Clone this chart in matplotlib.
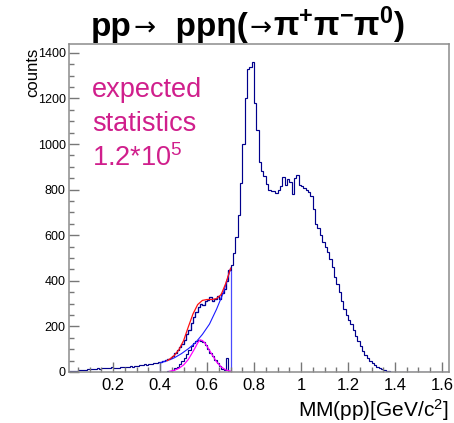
import numpy as np
import matplotlib
matplotlib.use("Agg")
import matplotlib.pyplot as plt
from matplotlib.ticker import MultipleLocator
from matplotlib.offsetbox import TextArea, HPacker, AnchoredOffsetbox

plt.rcParams['font.family'] = ['Liberation Sans', 'DejaVu Sans']
plt.rcParams['mathtext.fontset'] = 'custom'
plt.rcParams['mathtext.rm'] = 'Liberation Sans'
plt.rcParams['mathtext.it'] = 'Liberation Sans:italic'
plt.rcParams['mathtext.bf'] = 'Liberation Sans:bold'

# binning of MM(pp): 0.01 GeV/c^2 bins starting at 0.01
bin_lo = 0.01
bin_w = 0.01

# all events, one value per bin (0.01 ... 1.63)
counts_all = [
    4, 5, 6, 5, 8, 7, 10, 9, 12,
    11, 14, 13, 16, 15, 17, 16, 19, 18, 20,
    17, 19, 18, 21, 20, 23, 22, 25, 24, 27,
    28, 30, 29, 33, 32, 35, 37, 39, 38, 42,
    44, 48, 52, 58, 62, 70, 82, 95, 108, 122,
    140, 165, 185, 215, 240, 262, 285, 300, 296, 310,
    316, 328, 310, 322, 335, 318, 345, 362, 398, 448,
    470, 520, 590, 690, 830, 1000, 1200, 1330, 1340, 1362,
    1180, 1060, 920, 880, 860, 825, 800, 792, 795, 785,
    800, 815, 855, 820, 845, 835, 780, 850, 865, 820,
    815, 805, 800, 790, 770, 715, 650, 630, 600, 570,
    548, 525, 495, 462, 418, 385, 350, 312, 275, 250,
    228, 210, 185, 160, 135, 112, 92, 75, 62, 48,
    38, 30, 22, 16, 12, 8, 5, 3, 2, 1,
    0, 0, 0, 0, 0, 0, 0, 0, 0, 0,
    0, 0, 0, 0, 0, 0, 0, 0, 0, 0,
    0, 0, 0,
]

# fit window 0.40 - 0.70
win_lo, win_hi = 0.40, 0.70

# eta signal after background subtraction (0.40 ... 0.70)
counts_signal = [
    0, 1, 2, 4, 6, 10, 16, 24, 35, 48,
    62, 78, 95, 112, 128, 138, 142, 135, 130, 118,
    100, 85, 68, 52, 38, 26, 15, 8, 62, 4,
]

# fitted curves
fit_x = [0.40, 0.43, 0.46, 0.49, 0.52, 0.55, 0.58, 0.61, 0.64, 0.67, 0.70]
fit_bkg = [40, 50, 62, 80, 102, 128, 165, 210, 275, 350, 455]

tot_x = [0.43, 0.44, 0.46, 0.48, 0.50, 0.52, 0.54, 0.56, 0.58, 0.60, 0.62, 0.64, 0.66, 0.68, 0.70]
fit_tot = [50, 56, 72, 98, 138, 198, 255, 296, 314, 318, 318, 322, 340, 390, 455]

gaus_x = [0.44, 0.46, 0.48, 0.50, 0.52, 0.54, 0.55, 0.56, 0.57, 0.58, 0.59, 0.60, 0.62, 0.64, 0.66, 0.68, 0.70]
fit_gaus = [3, 7, 16, 31, 55, 90, 108, 128, 141, 138, 128, 112, 78, 45, 22, 9, 3]

edges_all = bin_lo + bin_w * np.arange(len(counts_all) + 1)
edges_sig = win_lo + bin_w * np.arange(len(counts_signal) + 1)
i0 = int(round((win_lo - bin_lo) / bin_w))
counts_win = counts_all[i0:i0 + len(counts_signal)]

navy = '#00008c'
fig = plt.figure(figsize=(4.54, 4.23), dpi=100)
ax = fig.add_axes([0.151, 0.1206, 0.838, 0.776])

ax.stairs(counts_win, edges_sig, color='#4a4aff', lw=0.9)
ax.stairs(counts_all, edges_all, color=navy, lw=0.85)
ax.stairs(counts_signal, edges_sig, color=navy, lw=0.85)
ax.plot(fit_x, fit_bkg, color='#1a1aff', lw=0.8)
ax.plot(tot_x, fit_tot, color='#ff1010', lw=0.9)
ax.plot(gaus_x, fit_gaus, color='#ff00ff', lw=0.9)

ax.set_xlim(0.01, 1.63)
ax.set_ylim(0, 1440)

ax.xaxis.set_major_locator(MultipleLocator(0.2))
ax.xaxis.set_minor_locator(MultipleLocator(0.05))
ax.yaxis.set_major_locator(MultipleLocator(200))
ax.yaxis.set_minor_locator(MultipleLocator(50))
ax.xaxis.set_major_formatter(plt.FuncFormatter(lambda v, p: f'{v:g}'))
ax.tick_params(which='both', direction='in', color='#777777', width=1.0)
ax.tick_params(which='major', length=7)
ax.tick_params(which='minor', length=3.5)
ax.tick_params(axis='x', labelsize=12, pad=4)
ax.tick_params(axis='y', labelsize=9, pad=2)
for s in ax.spines.values():
    s.set_color('#8c8c8c')
    s.set_linewidth(1.1)

fig.text(0.989, 0.014, 'MM(pp)[GeV/c$^{2}$]', ha='right', va='baseline', fontsize=15)
fig.text(0.072, 0.887, 'counts', rotation=90, ha='center', va='top', fontsize=12)

mag = '#d01f8c'
ax.text(0.062, 0.898, 'expected', transform=ax.transAxes, color=mag, fontsize=19.5, va='top')
ax.text(0.062, 0.796, 'statistics', transform=ax.transAxes, color=mag, fontsize=19.5, va='top')
ax.text(0.062, 0.694, '1.2*10$^{5}$', transform=ax.transAxes, color=mag, fontsize=19.5, va='top')

big = dict(size=24, weight='bold')
arrow = dict(size=19, family=['DejaVu Sans'])
parts = [TextArea('pp', textprops=big), TextArea('\u2192', textprops=arrow),
         TextArea('  pp\u03b7(', textprops=big), TextArea('\u2192', textprops=arrow),
         TextArea('\u03c0$^{\\mathbf{+}}$\u03c0$^{\\mathbf{-}}$\u03c0$^{\\mathbf{0}}$)', textprops=big)]
title = HPacker(children=parts, align='baseline', pad=0, sep=1)
box = AnchoredOffsetbox(loc='upper center', child=title, bbox_to_anchor=(0.546, 0.99),
                        bbox_transform=fig.transFigure, frameon=False, pad=0, borderpad=0)
fig.add_artist(box)

fig.savefig('out.png', dpi=100)
